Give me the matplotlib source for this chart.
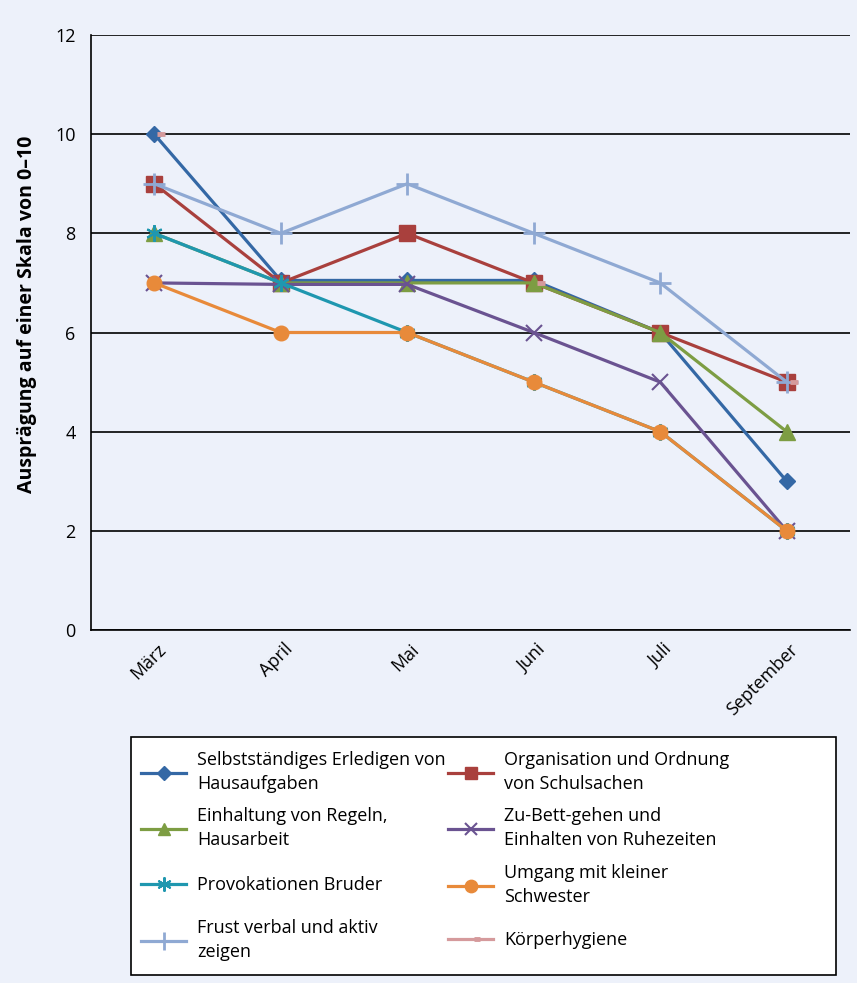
import matplotlib.pyplot as plt
import matplotlib.transforms as mtrans
import numpy as np
from matplotlib.path import Path as MPath
from matplotlib.patches import Rectangle

plt.rcParams['font.family'] = ['Open Sans', 'DejaVu Sans']

months = ["März", "April", "Mai", "Juni", "Juli", "September"]

selbst = [10, 7.05, 7.05, 7.05, 6, 3]
organisation = [9, 7, 8, 7, 6, 5]
einhaltung = [8, 7, 7, 7, 6, 4]
zubett = [7, 6.97, 6.97, 6, 5, 2]
provokation = [8, 7, 6, 5, 4, 2]
umgang = [7, 6, 6, 5, 4, 2]
frust = [9, 8, 9, 8, 7, 5]
koerper = [10, np.nan, np.nan, 7, np.nan, 5]

labels = [
    "Selbstständiges Erledigen von\nHausaufgaben",
    "Organisation und Ordnung\nvon Schulsachen",
    "Einhaltung von Regeln,\nHausarbeit",
    "Zu-Bett-gehen und\nEinhalten von Ruhezeiten",
    "Provokationen Bruder",
    "Umgang mit kleiner\nSchwester",
    "Frust verbal und aktiv\nzeigen",
    "Körperhygiene",
]

BG = "#edf1fa"
W, H = 857, 983

# dash marker that sits right of the point, like in the original export
dash_marker = MPath([(0.27, 0), (1, 0)], [MPath.MOVETO, MPath.LINETO])


def add_series(ax):
    x = np.arange(len(months))
    lw = 2.3
    styles = [
        (selbst, "#3468a5", dict(marker="D", ms=8)),
        (organisation, "#a9403d", dict(marker="s", ms=11)),
        (einhaltung, "#7d9d43", dict(marker="^", ms=11)),
        (zubett, "#6a5391", dict(marker="x", ms=11, mew=1.5)),
        (provokation, "#1f97af", dict(marker=(6, 2, 0), ms=12, mew=1.5)),
        (umgang, "#e88a3a", dict(marker="o", ms=10.5)),
        (frust, "#8fa9d3", dict(marker="+", ms=16, mew=2)),
        (koerper, "#d59a9c", dict(marker=dash_marker, ms=16, mew=3.5)),
    ]
    for (y, color, mk), label in zip(styles, labels):
        ax.plot(x, y, color=color, lw=lw, label=label, mfc=color, mec=color,
                **mk)


def setup_axes(fig, ax):
    ax.set_facecolor(BG)
    ax.set_xlim(-0.5, 5.5)
    ax.set_ylim(0, 12)
    ax.set_yticks(np.arange(0, 13, 2))
    ax.set_xticks(np.arange(len(months)))
    ax.tick_params(axis="x", length=0, pad=12)
    ax.tick_params(axis="y", length=0, pad=11, labelsize=13)
    ax.set_xticklabels(months, rotation=45, ha="right", va="center",
                       rotation_mode="anchor", fontsize=13)
    # tick_params resets label transforms, so shift afterwards
    shift = mtrans.ScaledTranslation(0.09, 0, fig.dpi_scale_trans)
    for tick in ax.xaxis.get_major_ticks():
        tick.label1.set_transform(tick.label1.get_transform() + shift)
    ax.yaxis.grid(True, color="black", lw=1.2)
    ax.set_axisbelow(True)
    for side in ["top", "right"]:
        ax.spines[side].set_visible(False)
    ax.spines["left"].set_linewidth(1.2)
    ax.spines["bottom"].set_linewidth(1.2)
    ax.set_ylabel("Ausprägung auf einer Skala von 0–10", fontsize=14,
                  fontweight="bold")
    ax.yaxis.set_label_coords(-0.071, 0.53)


def add_legend(fig, ax):
    handles, labs = ax.get_legend_handles_labels()
    # fixed-size legend box as in the original
    box = Rectangle((131 / W, 1 - 975 / H), 705 / W, 238 / H,
                    transform=fig.transFigure, facecolor="white",
                    edgecolor="black", lw=1.2, zorder=4)
    fig.add_artist(box)
    # one small legend per entry so that the two columns keep aligned rows
    col_x = [141, 448]
    row_y = [772, 828, 885, 940]
    for i, (h, lab) in enumerate(zip(handles, labs)):
        x0 = col_x[i % 2]
        y0 = row_y[i // 2]
        leg = fig.legend([h], [lab], loc="center left",
                         bbox_to_anchor=(x0 / W, 1 - y0 / H),
                         borderaxespad=0, borderpad=0, fontsize=13,
                         numpoints=1, handlelength=2.5, handletextpad=0.6,
                         markerscale=0.85, frameon=False)
        for t in leg.get_texts():
            t.set_linespacing(1.45)


def entry_point():
    fig = plt.figure(figsize=(W / 100, H / 100), dpi=100)
    fig.patch.set_facecolor(BG)
    ax = fig.add_axes([91 / W, 1 - 630 / H, 759 / W, 595 / H])
    add_series(ax)
    setup_axes(fig, ax)
    add_legend(fig, ax)
    fig.savefig("out.png", dpi=100, facecolor=BG)


if __name__ == "__main__":
    entry_point()
